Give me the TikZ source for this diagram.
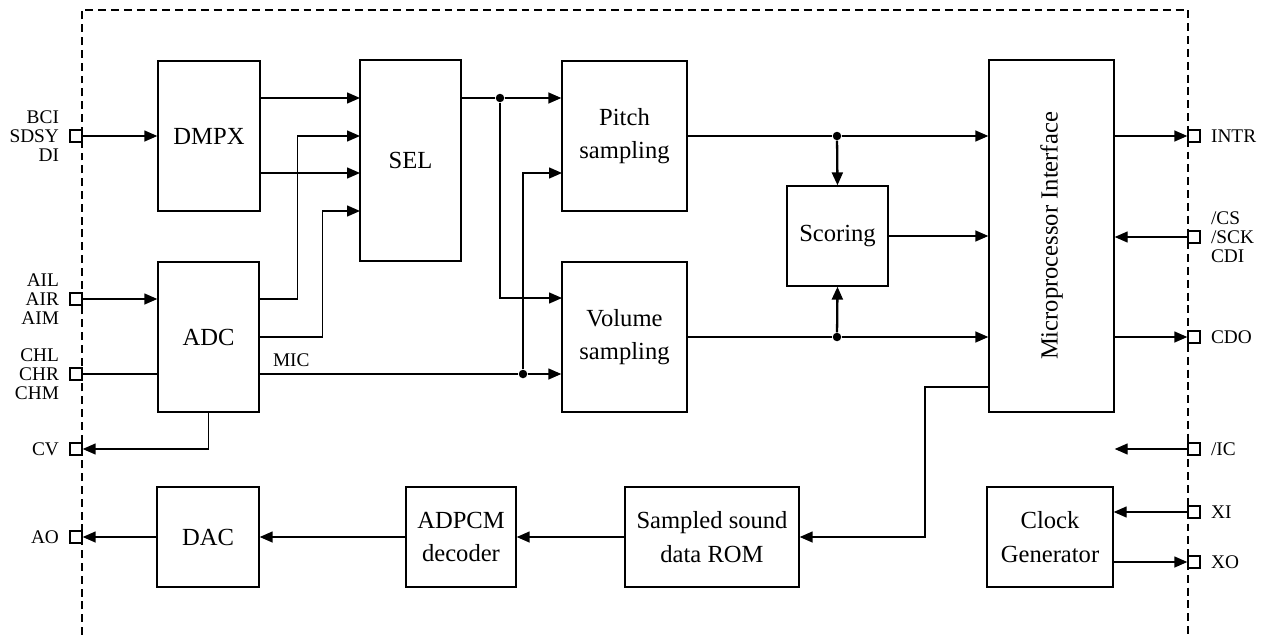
\documentclass[tikz,border=0pt]{standalone}
\usepackage{fontspec}
\setmainfont{Liberation Serif}
\usetikzlibrary{arrows.meta}
\newcommand{\blkfont}{\fontsize{14}{19}\selectfont}
\newcommand{\lblfont}{\fontsize{11}{10.8}\selectfont}
\tikzstyle{block}=[draw, line width=0.8pt, font=\blkfont, align=center, inner sep=0pt]
\tikzstyle{pinbox}=[draw, line width=0.8pt, minimum size=0.24cm, inner sep=0pt]
\tikzstyle{lbl}=[font=\lblfont, inner sep=0pt]
\tikzstyle{wire}=[line width=0.8pt]
\tikzstyle{arr}=[line width=0.8pt, -{Triangle[length=0.26cm,width=0.22cm]}]
\tikzstyle{bold arr}=[line width=1.3pt, -{Triangle[length=0.26cm,width=0.22cm]}]
\tikzstyle{dot}=[circle, fill, inner sep=0pt, minimum size=0.17cm]
\tikzstyle{frame}=[line width=0.8pt, dash pattern=on 4.5pt off 2.8pt]

\begin{document}
\begin{tikzpicture}[x=0.02cm, y=-0.02cm]
	\useasboundingbox (0,0) rectangle (1270,635);
	% chip outline
	\draw[frame] (82,635) -- (82,10) -- (1188,10) -- (1188,635);
	% blocks
	\node[block, minimum width=2.04cm, minimum height=3cm] (dmpx) at (209,136) {DMPX};
	\node[block, minimum width=2.02cm, minimum height=4.02cm] (sel) at (410.5,160.5) {SEL};
	\node[block, minimum width=2.02cm, minimum height=3cm] (adc) at (208.5,337) {ADC};
	\node[block, minimum width=2.04cm, minimum height=2cm] (dac) at (208,537) {DAC};
	\node[block, minimum width=2.5cm, minimum height=3cm] (pitch) at (624.5,136) {Pitch\\sampling};
	\node[block, minimum width=2.5cm, minimum height=3cm] (volume) at (624.5,337) {Volume\\sampling};
	\node[block, minimum width=2.02cm, minimum height=2cm] (scoring) at (837.5,236) {Scoring};
	\node[block, minimum width=2.5cm, minimum height=7.04cm] (mpi) at (1051.5,236) {\rotatebox{90}{Microprocessor Interface}};
	\node[block, minimum width=2.52cm, minimum height=2cm] (clock) at (1050,537) {Clock\\Generator};
	\node[block, minimum width=2.2cm, minimum height=2cm] (adpcm) at (461,537) {ADPCM\\decoder};
	\node[block, minimum width=3.48cm, minimum height=2cm] (rom) at (712,537) {Sampled sound\\data ROM};
	% pins
	\node[pinbox] (pdi) at (76,136) {};
	\node[pinbox] (pai) at (76,299) {};
	\node[pinbox] (pch) at (76,374) {};
	\node[pinbox] (pcv) at (76,449) {};
	\node[pinbox] (pao) at (76,537) {};
	\node[pinbox] (pintr) at (1194,136) {};
	\node[pinbox] (pcs) at (1194,237) {};
	\node[pinbox] (pcdo) at (1194,337) {};
	\node[pinbox] (pic) at (1194,449) {};
	\node[pinbox] (pxi) at (1194,512) {};
	\node[pinbox] (pxo) at (1194,562) {};
	\node[lbl, align=right, anchor=east] at ([xshift=-0.2cm]pdi.west) {BCI\\SDSY\\DI};
	\node[lbl, align=right, anchor=east] at ([xshift=-0.2cm]pai.west) {AIL\\AIR\\AIM};
	\node[lbl, align=right, anchor=east] at ([xshift=-0.2cm]pch.west) {CHL\\CHR\\CHM};
	\node[lbl, anchor=east] at ([xshift=-0.2cm]pcv.west) {CV};
	\node[lbl, anchor=east] at ([xshift=-0.2cm]pao.west) {AO};
	\node[lbl, anchor=west] at ([xshift=0.2cm]pintr.east) {INTR};
	\node[lbl, align=left, anchor=west] at ([xshift=0.2cm]pcs.east) {/CS\\/SCK\\CDI};
	\node[lbl, anchor=west] at ([xshift=0.2cm]pcdo.east) {CDO};
	\node[lbl, anchor=west] at ([xshift=0.2cm]pic.east) {/IC};
	\node[lbl, anchor=west] at ([xshift=0.2cm]pxi.east) {XI};
	\node[lbl, anchor=west] at ([xshift=0.2cm]pxo.east) {XO};
	% inputs of SEL and the two samplers
	\coordinate (s1) at (360,98);
	\coordinate (s2) at (360,136);
	\coordinate (s3) at (360,173);
	\coordinate (s4) at (360,211);
	\coordinate (p2) at (562,173);
	\coordinate (v1) at (562,298);
	\coordinate (m1) at (989,387);
	% junctions
	\node[dot] (d1) at (500,98) {};
	\node[dot] (d2) at (523,374) {};
	\node[dot] (d3) at (837,136) {};
	\node[dot] (d4) at (837,337) {};
	% input side
	\draw[arr] (pdi.east) -- (dmpx.west |- pdi);
	\draw[arr] (pai.east) -- (adc.west |- pai);
	\draw[wire] (pch.east) -- (adc.west |- pch);
	\draw[arr] (adc.south) |- (pcv.east);
	\draw[arr] (dmpx.east |- s1) -- (s1);
	\draw[arr] (dmpx.east |- s3) -- (s3);
	\draw[arr] (adc.east |- pai) -- ++(38,0) |- (s2);
	\draw[arr] (adc.east) -- ++(63,0) |- (s4);
	% SEL and MIC to samplers
	\draw[wire] (sel.east |- d1) -- (d1);
	\draw[arr] (d1) -- (pitch.west |- d1);
	\draw[arr] (d1) |- (v1);
	\coordinate (micl) at (adc.east |- d2);
	\draw[wire] (micl) -- (d2);
	\node[lbl, anchor=south west] (mic) at ([xshift=0.26cm, yshift=0.14cm]micl) {MIC};
	\draw[arr] (d2) -- (volume.west |- d2);
	\draw[arr] (d2) |- (p2);
	% samplers to scoring and interface
	\draw[wire] (pitch.east) -- (d3);
	\draw[arr] (d3) -- (mpi.west |- d3);
	\draw[bold arr] (d3) -- (scoring.north);
	\draw[arr] (scoring.east) -- (mpi.west |- scoring.east);
	\draw[wire] (volume.east) -- (d4);
	\draw[arr] (d4) -- (mpi.west |- d4);
	\draw[bold arr] (d4) -- (scoring.south);
	% interface pins
	\draw[arr] (mpi.east |- pintr) -- (pintr.west);
	\draw[arr] (pcs.west) -- (mpi.east |- pcs);
	\draw[arr] (mpi.east |- pcdo) -- (pcdo.west);
	\draw[arr] (pic.west) -- (mpi.east |- pic);
	\draw[arr] (pxi.west) -- (clock.east |- pxi);
	\draw[arr] (clock.east |- pxo) -- (pxo.west);
	% playback chain
	\draw[arr] (m1) -- ++(-64,0) |- (rom.east);
	\draw[arr] (rom.west) -- (adpcm.east);
	\draw[arr] (adpcm.west) -- (dac.east);
	\draw[arr] (dac.west) -- (pao.east);
\end{tikzpicture}
\end{document}
